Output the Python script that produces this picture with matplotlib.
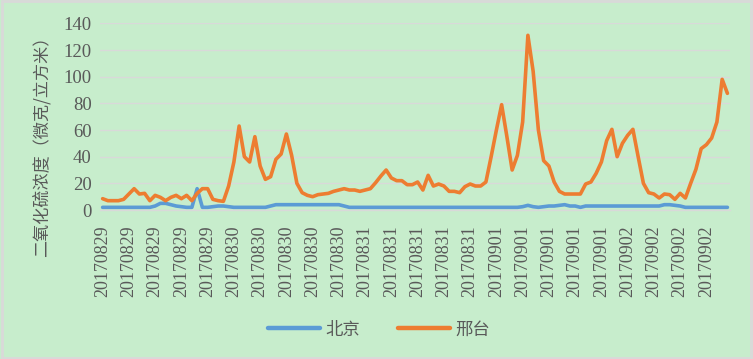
"""
    SO2 hourly concentration, Beijing vs Xingtai
"""
import matplotlib
matplotlib.use('Agg')
import matplotlib.pyplot as plt
from matplotlib.patches import Rectangle

days = ['20170829', '20170830', '20170831', '20170901', '20170902']
hours_per_day = 24
categories = [d for d in days for _ in range(hours_per_day)]

beijing = [2, 2, 2, 2, 2, 2, 2, 2, 2, 2, 3, 5, 5, 4, 3, 2.5, 2, 2, 16, 2,
           2, 2.5, 3, 3, 2.5, 2, 2, 2, 2, 2, 2, 2, 3, 4, 4, 4, 4, 4, 4, 4,
           4, 4, 4, 4, 4, 4, 3, 2, 2, 2, 2, 2, 2, 2, 2, 2, 2, 2, 2, 2,
           2, 2, 2, 2, 2, 2, 2, 2, 2, 2, 2, 2, 2, 2, 2, 2, 2, 2, 2, 2,
           2.5, 3.5, 2.5, 2, 2.5, 3, 3, 3.5, 4, 3, 3, 2, 3, 3, 3, 3, 3, 3, 3, 3,
           3, 3, 3, 3, 3, 3, 3, 4, 4, 3.5, 3, 2, 2, 2, 2, 2, 2, 2, 2, 2]

xingtai = [8.5, 7, 7, 7, 8, 12, 16, 12, 12.5, 7, 11, 9.5, 7, 9.5, 11, 8.5, 11, 7, 12.5, 16,
           16, 8, 7, 6.5, 18, 36, 63, 40, 36, 55, 33, 23, 25, 38, 42, 57, 41, 20, 13, 11,
           10, 11.5, 12, 12.5, 14, 15, 16, 15, 15, 14, 15, 16, 20.5, 25.5, 30, 24, 22, 22, 19, 19,
           21, 15, 26, 18, 19.5, 18, 14, 14, 13, 17.5, 19.5, 18, 18, 21, 40, 60, 79, 55, 30, 41,
           66, 131, 104, 60, 37, 33, 21, 14, 12, 12, 12, 12, 19.5, 21, 27.5, 36, 52, 60.5, 40, 50,
           56, 60.5, 40, 20, 13, 12, 9, 12, 11.5, 8, 12.5, 9, 20, 30.5, 46, 49, 54, 66, 98, 87.5]

series_names = ['北京', '邢台']
series_colors = ['#5B9BD5', '#ED7D31']

bg = '#C7EDCC'
text_color = '#595959'
grid_color = '#D9D9D9'

fig = plt.figure(figsize=(7.53, 3.59), dpi=100, facecolor=bg)
ax = fig.add_axes([0.1328, 0.415, 0.8367, 0.52], facecolor=bg)

x = list(range(len(categories)))
for values, name, color in zip([beijing, xingtai], series_names, series_colors):
    ax.plot(x, values, color=color, lw=2.6, label=name,
            solid_joinstyle='round', solid_capstyle='round')

ax.set_xlim(-0.5, len(categories) - 0.5)
ax.set_ylim(0, 140)
ax.set_yticks(range(0, 141, 20))
ax.set_yticklabels([str(v) for v in range(0, 141, 20)],
                   fontfamily='Liberation Serif', fontsize=13.5, color=text_color)

tick_pos = list(range(0, len(categories), 5))
ax.set_xticks(tick_pos)
ax.set_xticklabels([categories[i] for i in tick_pos], rotation=90,
                   fontfamily='Liberation Serif', fontsize=13, color=text_color)

ax.grid(axis='y', color=grid_color, lw=1)
ax.set_axisbelow(True)
ax.tick_params(axis='y', length=0, pad=6)
ax.tick_params(axis='x', length=0, pad=11)
for side in ['top', 'right', 'left']:
    ax.spines[side].set_visible(False)
ax.spines['bottom'].set_color(grid_color)
ax.spines['bottom'].set_linewidth(1)

ax.set_ylabel('二氧化硫浓度（微克/立方米）', fontfamily=['Noto Sans CJK SC', 'DejaVu Sans'],
              fontsize=12.3, color=text_color)
ax.yaxis.set_label_coords(-0.079, 0.36)

leg = fig.legend(loc='center', bbox_to_anchor=(0.503, 0.082), ncol=2, frameon=False,
                 prop={'family': ['Noto Sans CJK SC', 'DejaVu Sans'], 'size': 12.5},
                 handlelength=3, columnspacing=2.2, handletextpad=0.3)
for t in leg.get_texts():
    t.set_color(text_color)
for h in leg.legend_handles:
    h.set_linewidth(3.2)

fig.patches.append(Rectangle((0.002, 0.003), 0.996, 0.994, transform=fig.transFigure,
                             fill=False, edgecolor=grid_color, lw=2))

fig.savefig('out.png', dpi=100, facecolor=bg)
